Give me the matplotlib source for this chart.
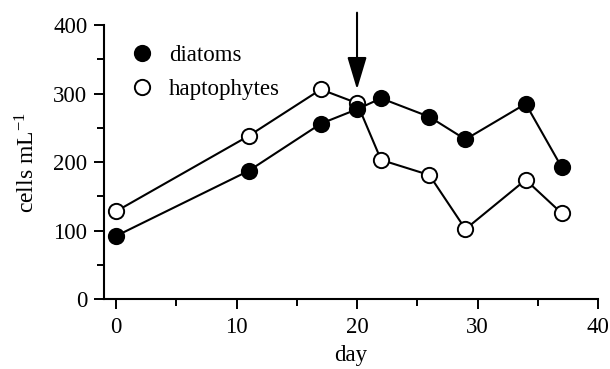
import matplotlib
matplotlib.use("Agg")
import matplotlib.pyplot as plt
from matplotlib.ticker import MultipleLocator

# Cell abundance over the experiment
days = [0, 11, 17, 20, 22, 26, 29, 34, 37]
diatoms = [92, 187, 256, 277, 293, 266, 233, 285, 192]
haptophytes = [128, 238, 306, 286, 203, 181, 102, 174, 125]
arrow_day = 20

plt.rcParams['font.family'] = ['Liberation Serif', 'DejaVu Serif']
plt.rcParams['mathtext.fontset'] = 'stix'

FS = 16.5

fig = plt.figure(figsize=(6.10, 3.69), dpi=100)
ax = fig.add_axes([0.1705, 0.1897, 0.8098, 0.7425])

line_kw = dict(color='black', lw=1.5, markersize=11, markeredgewidth=1.4,
               clip_on=False)
ax.plot(days, haptophytes, marker='o', markerfacecolor='white',
        markeredgecolor='black', label='haptophytes', zorder=3, **line_kw)
ax.plot(days, diatoms, marker='o', markerfacecolor='black',
        markeredgecolor='black', label='diatoms', zorder=4, **line_kw)

# Arrow marking the treatment day
ax.annotate('', xy=(arrow_day, 306), xytext=(arrow_day, 418),
            xycoords='data', textcoords='data', annotation_clip=False,
            arrowprops=dict(arrowstyle='-|>,head_length=2.0,head_width=0.6',
                            color='black', lw=1.5, shrinkA=0, shrinkB=0))

ax.set_xlim(-1, 40)
ax.set_ylim(0, 400)
ax.xaxis.set_major_locator(MultipleLocator(10))
ax.xaxis.set_minor_locator(MultipleLocator(5))
ax.yaxis.set_major_locator(MultipleLocator(100))
ax.yaxis.set_minor_locator(MultipleLocator(50))

for s in ('top', 'right'):
    ax.spines[s].set_visible(False)
for s in ('left', 'bottom'):
    ax.spines[s].set_linewidth(1.5)

ax.tick_params(which='major', direction='out', length=7, width=1.4,
               labelsize=FS, pad=5)
ax.tick_params(axis='x', which='major', pad=6)
ax.tick_params(which='minor', direction='out', length=5, width=1.4)

ax.set_xlabel('day', fontsize=FS, labelpad=5)
ax.set_ylabel('cells mL$^{\\mathregular{-1}}$', fontsize=17, labelpad=10)

handles, labels = ax.get_legend_handles_labels()
order = [1, 0]
ax.legend([handles[i] for i in order], [labels[i] for i in order],
          loc='upper left', bbox_to_anchor=(0.059, 0.96), frameon=False,
          fontsize=FS, handlelength=0, handletextpad=1.15, labelspacing=0.55,
          borderaxespad=0)
for h in ax.get_legend().legend_handles:
    h.set_linestyle('none')

fig.savefig('out.png', dpi=100)
